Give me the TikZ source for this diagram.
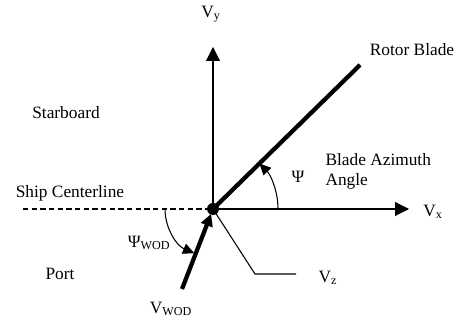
\documentclass[tikz,border=0pt]{standalone}
\usepackage{fontspec}
\setmainfont{Liberation Serif}
\usetikzlibrary{arrows.meta,positioning,calc}

\begin{document}
\begin{tikzpicture}[x=0.75pt,y=0.75pt,
  axis/.style={line width=.8pt,-{Triangle[length=10.5pt,width=10.5pt]}},
  thickline/.style={line width=3.2pt},
  anglearrow/.style={line width=.8pt,-{Triangle[length=8.5pt,width=8pt]}},
  lbl/.style={font=\fontsize{13}{15}\selectfont,inner sep=0pt},
  every path/.style={line width=.8pt}]
\useasboundingbox (0,0) rectangle (460,323);
\coordinate (O) at (213,114);
\coordinate (vyend) at (213,276);
\coordinate (vxend) at (409,114);
\coordinate (cl) at (23,114);
\coordinate (blade) at (360,258);
\coordinate (wod) at (182,34);
\coordinate (vzknee) at (255,49);
\coordinate (vzend) at (296,49);
% axes
\draw[axis] (O)--(vyend);
\draw[axis] (O)--(vxend);
\draw[dash pattern=on 4pt off 2.5pt] (cl)--(O);
% blade and wind over deck
\draw[thickline] (O)--(blade);
\draw[thickline,-{Triangle[length=9pt,width=9pt]}] (wod)--($(O)!4pt!(wod)$);
\draw (O)--(vzknee)--(vzend);
% angles
\draw[anglearrow] ($(O)+(65,0)$) arc[start angle=0,end angle=44.4,radius=65];
\draw[anglearrow] ($(O)+(-48,0)$) arc[start angle=180,end angle=247,radius=48];
\node[circle,fill=black,inner sep=0pt,minimum size=9pt] (hub) at (O) {};
% labels
\node[lbl] (vy) at (211,309) {V\textsubscript{y}};
\node[lbl] (vx) at (433,111) {V\textsubscript{x}};
\node[lbl] (vz) at (328,45) {V\textsubscript{z}};
\node[lbl] (rotor) at (412,273) {Rotor Blade};
\node[lbl] (starboard) at (66,210) {Starboard};
\node[lbl,align=left,anchor=west] (azimuth) at (325,152) {Blade Azimuth\\Angle};
\node[lbl] (psi) at (298,146) {Ψ};
\node[lbl] (centerline) at (70,130) {Ship Centerline};
\node[lbl] (port) at (60,49) {Port};
\node[lbl] (psiwod) at (149,80) {Ψ\textsubscript{WOD}};
\node[lbl] (vwod) at (171,14) {V\textsubscript{WOD}};
\end{tikzpicture}
\end{document}
